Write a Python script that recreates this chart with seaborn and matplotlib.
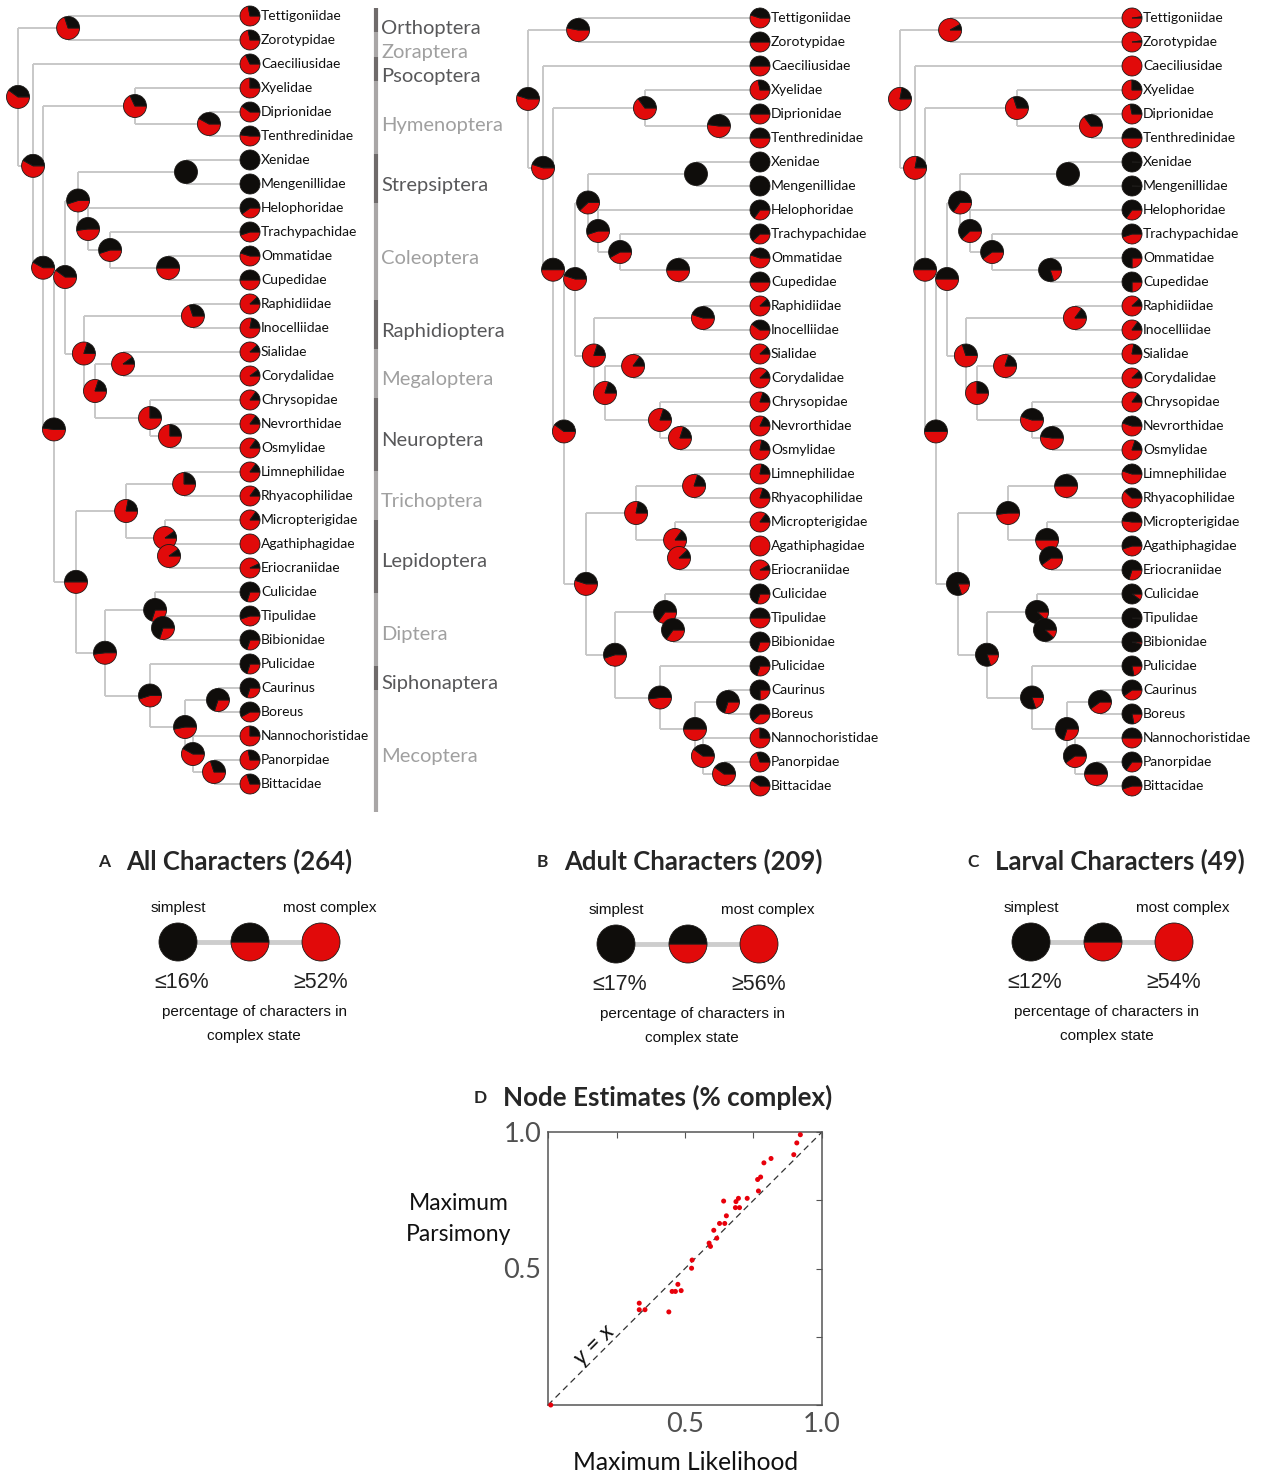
import matplotlib
matplotlib.use("Agg")
import matplotlib.pyplot as plt
import seaborn as sns

# ---------------- data ----------------
taxa = ["Tettigoniidae", "Zorotypidae", "Caeciliusidae", "Xyelidae", "Diprionidae",
        "Tenthredinidae", "Xenidae", "Mengenillidae", "Helophoridae", "Trachypachidae",
        "Ommatidae", "Cupedidae", "Raphidiidae", "Inocelliidae", "Sialidae", "Corydalidae",
        "Chrysopidae", "Nevrorthidae", "Osmylidae", "Limnephilidae", "Rhyacophilidae",
        "Micropterigidae", "Agathiphagidae", "Eriocraniidae", "Culicidae", "Tipulidae",
        "Bibionidae", "Pulicidae", "Caurinus", "Boreus", "Nannochoristidae", "Panorpidae",
        "Bittacidae"]

orders = ["Orthoptera", "Zoraptera", "Psocoptera", "Hymenoptera", "Strepsiptera",
          "Coleoptera", "Raphidioptera", "Megaloptera", "Neuroptera", "Trichoptera",
          "Lepidoptera", "Diptera", "Siphonaptera", "Mecoptera"]
order_sizes = [1, 1, 1, 3, 2, 4, 2, 2, 3, 2, 3, 3, 1, 5]

# internal nodes (children listed before parents), depth 0 = root, 100 = tips
node_names = ["TZ", "DipTen", "Hymenoptera", "Strepsiptera", "OmmCup", "TraOC", "HeloTOC",
              "Coleopterida", "Raphidioptera", "SialCor", "OsmNev", "Neuroptera", "MegNeu",
              "Neuropterida", "Neuropteroidea", "LimRhy", "AgaEri", "Lepidoptera",
              "Amphiesmenoptera", "TipBib", "Diptera", "PanBit", "NanPB", "CauBor", "Mecoptera",
              "SiphMec", "Antliophora", "Mecopterida", "Aparaglossata", "Holometabola",
              "Eumetabola", "root"]
node_child1 = ["Tettigoniidae", "Diprionidae", "Xyelidae", "Xenidae", "Ommatidae",
               "Trachypachidae", "Helophoridae", "Strepsiptera", "Raphidiidae", "Sialidae",
               "Nevrorthidae", "Chrysopidae", "SialCor", "Raphidioptera", "Coleopterida",
               "Limnephilidae", "Agathiphagidae", "Micropterigidae", "LimRhy", "Tipulidae",
               "Culicidae", "Panorpidae", "Nannochoristidae", "Caurinus", "CauBor", "Pulicidae",
               "Diptera", "Amphiesmenoptera", "Neuropteroidea", "Hymenoptera", "Caeciliusidae",
               "TZ"]
node_child2 = ["Zorotypidae", "Tenthredinidae", "DipTen", "Mengenillidae", "Cupedidae",
               "OmmCup", "TraOC", "HeloTOC", "Inocelliidae", "Corydalidae", "Osmylidae",
               "OsmNev", "Neuroptera", "MegNeu", "Neuropterida", "Rhyacophilidae",
               "Eriocraniidae", "AgaEri", "Lepidoptera", "Bibionidae", "TipBib", "Bittacidae",
               "PanBit", "Boreus", "NanPB", "Mecoptera", "SiphMec", "Antliophora",
               "Mecopterida", "Aparaglossata", "Holometabola", "Eumetabola"]
node_depth = [21.6, 82.3, 50.4, 72.4, 64.7, 39.7, 30.2, 25.9, 75.4, 45.3, 65.5, 56.9, 33.2,
              28.4, 20.3, 71.6, 65.1, 63.4, 46.6, 62.5, 59.1, 84.5, 75.4, 86.2, 72.0, 56.9,
              37.5, 25.0, 15.5, 10.8, 6.5, 0.0]

# fraction of characters in complex state (red) -- tips
leaf_all = [0.72, 0.72, 0.68, 0.75, 0.60, 0.52, 0.0, 0.0, 0.40, 0.45, 0.55, 0.50, 0.88, 0.78,
            0.88, 0.90, 0.85, 0.85, 0.85, 0.85, 0.85, 0.85, 1.0, 0.93, 0.30, 0.45, 0.30, 0.30,
            0.30, 0.42, 0.75, 0.72, 0.70]
leaf_adult = [0.55, 0.50, 0.50, 0.72, 0.50, 0.50, 0.0, 0.0, 0.35, 0.38, 0.55, 0.50, 0.88, 0.60,
              0.88, 0.88, 0.80, 0.82, 0.78, 0.78, 0.80, 0.85, 1.0, 0.92, 0.30, 0.50, 0.30, 0.30,
              0.25, 0.38, 0.75, 0.70, 0.60]
leaf_larval = [0.98, 0.98, 1.0, 0.75, 0.72, 0.50, 0.01, 0.01, 0.35, 0.45, 0.25, 0.25, 0.88,
               0.85, 0.78, 0.88, 0.85, 0.55, 0.80, 0.55, 0.62, 0.52, 0.45, 0.30, 0.10, 0.02,
               0.04, 0.22, 0.40, 0.22, 0.50, 0.35, 0.45]

# internal nodes, same order as node_names
node_all = [0.70, 0.58, 0.68, 0.0, 0.50, 0.45, 0.48, 0.45, 0.70, 0.90, 0.75, 0.75, 0.80, 0.80,
            0.60, 0.75, 0.90, 0.90, 0.78, 0.30, 0.30, 0.70, 0.58, 0.30, 0.47, 0.45, 0.48, 0.50,
            0.52, 0.58, 0.58, 0.60]
node_adult = [0.53, 0.52, 0.65, 0.0, 0.50, 0.42, 0.45, 0.38, 0.55, 0.85, 0.80, 0.80, 0.80,
              0.80, 0.55, 0.80, 0.88, 0.85, 0.78, 0.35, 0.35, 0.60, 0.60, 0.30, 0.50, 0.48,
              0.45, 0.55, 0.60, 0.50, 0.55, 0.55]
node_larval = [0.92, 0.65, 0.70, 0.0, 0.20, 0.40, 0.38, 0.35, 0.85, 0.80, 0.52, 0.55, 0.75,
               0.70, 0.50, 0.50, 0.40, 0.50, 0.48, 0.12, 0.12, 0.50, 0.40, 0.40, 0.30, 0.20,
               0.20, 0.20, 0.50, 0.50, 0.78, 0.78]

panel_letters = ["A", "B", "C"]
panel_titles = ["All Characters (264)", "Adult Characters (209)", "Larval Characters (49)"]
legend_low = ["≤16%", "≤17%", "≤12%"]
legend_high = ["≥52%", "≥56%", "≥54%"]

# node estimates, % complex
ml_est = [0.01, 0.333, 0.333, 0.354, 0.441, 0.453, 0.465, 0.474, 0.486, 0.526, 0.524, 0.588,
          0.593, 0.605, 0.616, 0.626, 0.645, 0.651, 0.641, 0.684, 0.686, 0.695, 0.699, 0.727,
          0.768, 0.765, 0.776, 0.788, 0.814, 0.897, 0.908, 0.921]
mp_est = [0.0, 0.373, 0.349, 0.349, 0.341, 0.416, 0.416, 0.442, 0.419, 0.531, 0.501, 0.593,
          0.581, 0.640, 0.611, 0.665, 0.665, 0.693, 0.747, 0.723, 0.745, 0.757, 0.723, 0.757,
          0.784, 0.826, 0.835, 0.887, 0.903, 0.917, 0.960, 0.990]

RED = "#e10a0a"
BLACK = "#0f0d0b"
BRANCH = "#c8c8c8"

sns.set_style("white")
plt.rcParams["font.family"] = ["Lato", "DejaVu Sans"]

W, H = 1262, 1477
fig = plt.figure(figsize=(W / 100, H / 100), dpi=100)
ax = fig.add_axes([0, 0, 1, 1])


def pie(x, y, frac, r):
    vals, cols = [], []
    if frac > 0:
        vals.append(frac)
        cols.append(RED)
    if frac < 1:
        vals.append(1 - frac)
        cols.append(BLACK)
    ax.pie(vals, colors=cols, center=(x, y), radius=r, startangle=0, counterclock=True,
           frame=True, wedgeprops=dict(edgecolor="#1c1a18", linewidth=0.6, zorder=4))


def draw_tree(x_root, y_top, leaf_red, node_red):
    span = 232
    pos = {t: (x_root + span, y_top + 24 * i) for i, t in enumerate(taxa)}
    for name, c1, c2, d in zip(node_names, node_child1, node_child2, node_depth):
        x = x_root + span * d / 100
        (x1, y1), (x2, y2) = pos[c1], pos[c2]
        kw = dict(color=BRANCH, lw=1.4, zorder=1, solid_capstyle="butt")
        ax.plot([x, x], [y1, y2], **kw)
        ax.plot([x, x1], [y1, y1], **kw)
        ax.plot([x, x2], [y2, y2], **kw)
        pos[name] = (x, (y1 + y2) / 2)
    for name, f in reversed(list(zip(node_names, node_red))):
        pie(*pos[name], f, 11.5)
    for t, f in zip(taxa, leaf_red):
        pie(*pos[t], f, 10)
        ax.text(pos[t][0] + 11, pos[t][1], t, fontsize=10, va="center", ha="left",
                color="#111111", zorder=5)


tree_x = [18, 528, 900]
tree_y = [16, 18, 18]
for xr, yt, lr, nr in zip(tree_x, tree_y, [leaf_all, leaf_adult, leaf_larval],
                          [node_all, node_adult, node_larval]):
    draw_tree(xr, yt, lr, nr)

# order bar and labels next to panel A
start = 0
for k, (name, n) in enumerate(zip(orders, order_sizes)):
    dark = k % 2 == 0
    ya, yb = 8 + 24.36 * start, 8 + 24.36 * (start + n)
    ax.plot([376, 376], [ya, yb], color="#6f6b6b" if dark else "#a9a6a6", lw=3,
            solid_capstyle="butt")
    ax.text(381, 15.9 + 24.27 * (start + n / 2), name, fontsize=14.5, va="center", ha="left",
            color="#58585a" if dark else "#a0a0a0")
    start += n

# panel titles and legends
title_x = [104, 542, 973]
legend_cx = [250, 688, 1103]
legend_cy = [942, 944, 942]
for letter, title, tx, cx, cy, lo, hi in zip(panel_letters, panel_titles, title_x, legend_cx,
                                             legend_cy, legend_low, legend_high):
    ax.text(tx, 862, letter, fontsize=12.5, fontweight="bold", ha="center", va="center")
    ax.text(tx + 22, 861, title, fontsize=18.5, fontweight="bold", ha="left", va="center")
    xs = [cx - 72, cx, cx + 71]
    ax.plot([xs[0], xs[2]], [cy, cy], color="#cdcdcd", lw=3.5, zorder=1)
    for x, f in zip(xs, [0.0, 0.5, 1.0]):
        pie(x, cy, f, 19)
    lk = dict(family="Liberation Sans", fontsize=11, ha="center", va="center", color="#111111")
    ax.text(xs[0], cy - 34, "simplest", **lk)
    ax.text(xs[2] + 9, cy - 34, "most complex", **lk)
    ax.text(xs[0] + 4, cy + 40, lo, family="Liberation Sans", fontsize=15.5, ha="center",
            va="center", color="#222222")
    ax.text(xs[2], cy + 40, hi, family="Liberation Sans", fontsize=15.5, ha="center",
            va="center", color="#222222")
    ax.text(cx + 4, cy + 70, "percentage of characters in", **lk)
    ax.text(cx + 4, cy + 94, "complex state", **lk)

# panel D title and axis labels
ax.text(480, 1098, "D", fontsize=12.5, fontweight="bold", ha="center", va="center")
ax.text(503, 1097, "Node Estimates (% complex)", fontsize=18.7, fontweight="bold", ha="left",
        va="center")
ax.text(459, 1219, "Maximum\nParsimony", fontsize=16.5, ha="center", va="center",
        linespacing=1.55, color="#111111")
ax.text(686, 1463, "Maximum Likelihood", fontsize=17.7, ha="center", va="center",
        color="#111111")

ax.set_xlim(0, W)
ax.set_ylim(H, 0)
ax.set_aspect("auto")
ax.axis("off")

# panel D scatter
axd = fig.add_axes([548 / W, 1 - 1405 / H, 274 / W, 273 / H])
axd.plot([0, 1], [0, 1], ls=(0, (5, 3.5)), color="#333333", lw=0.9, zorder=1)
sns.scatterplot(x=ml_est, y=mp_est, color="#e8000b", s=13, edgecolor="none", ax=axd,
                zorder=3, clip_on=False)
axd.set_xlim(0, 1)
axd.set_ylim(0, 1)
ticks = [0, 0.25, 0.5, 0.75, 1.0]
axd.set_xticks(ticks)
axd.set_yticks(ticks)
axd.set_xticklabels(["", "", "0.5", "", "1.0"])
axd.set_yticklabels(["", "", "0.5", "", "1.0"])
axd.tick_params(direction="in", length=4, width=0.8, color="#555555", labelsize=19.5,
                labelcolor="#505050", top=True, right=True, pad=5)
for s in axd.spines.values():
    s.set_color("#555555")
    s.set_linewidth(1.1)
axd.text(0.17, 0.22, "y = x", rotation=45, fontsize=17, style="italic", ha="center",
         va="center", color="#111111")

fig.savefig("out.png", dpi=100)
